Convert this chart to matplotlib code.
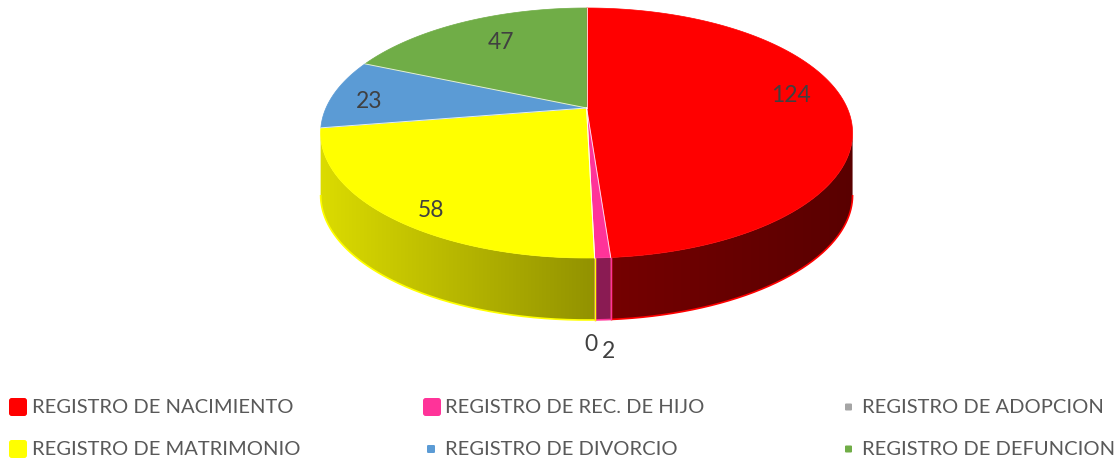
import numpy as np
import matplotlib
matplotlib.use("Agg")
import matplotlib.pyplot as plt
from matplotlib.patches import Polygon, FancyBboxPatch
from matplotlib.colors import to_rgb

# datos
categorias = ["REGISTRO DE NACIMIENTO", "REGISTRO DE REC. DE HIJO", "REGISTRO DE ADOPCION",
              "REGISTRO DE MATRIMONIO", "REGISTRO DE DIVORCIO", "REGISTRO DE DEFUNCION"]
valores = [124, 2, 0, 58, 23, 47]
colores = ["#FF0000", "#FF3399", "#A5A5A5", "#FFFF00", "#5B9BD5", "#70AD47"]

# geometria del pastel 3d (pixeles)
cx, cy = 586.6, 108.0
fx, fy = 260.6, 120.0
k = 0.2       # perspectiva
h = 62.0      # grosor
lab_r = [0.81, 1.0, 1.0, 0.89, 0.845, 0.72]
lab_dt = [5.7, 0, 0, 4.6, 3.6, -2.3]
fuera_dx = [0, 6, -4, 0, 0, 0]
fuera_dy = [0, 32, 25, 0, 0, 0]
# sombreado del costado: base - amp * posicion
lado_base = [0.47, 0.55, 0.56, 0.58, 0.56, 0.56]
lado_amp = [0.12, 0.1, 0.24, 0.28, 0.24, 0.24]

fuente = ['Liberation Sans Narrow', 'Lato', 'DejaVu Sans']


def proj(r, t, dz=0.0):
    t = np.radians(t)
    u = r * np.cos(t)
    v = r * np.sin(t)
    d = 1 + k * v
    return cx + fx * u / d, cy - fy * v / d + dz


fig = plt.figure(figsize=(11.17, 4.61), dpi=100)
ax = fig.add_axes([0, 0, 1, 1])

total = sum(valores)
inicio = []
fin = []
a = 90.0
for v in valores:
    inicio.append(a)
    a = a - 360.0 * v / total
    fin.append(a)

sil = np.degrees(np.arcsin(k))
lo, hi = -180 + sil, -sil

# costado con degradado
for i, v in enumerate(valores):
    if v == 0:
        continue
    a0 = max(fin[i], lo)
    a1 = min(inicio[i], hi)
    if a1 <= a0:
        continue
    ts = np.linspace(a0, a1, 200)
    bx, by = proj(1, ts)
    pts = list(zip(bx, by)) + list(zip(bx[::-1], by[::-1] + h))
    poly = Polygon(pts, closed=True, facecolor='none', edgecolor='none')
    ax.add_patch(poly)
    x0, x1 = bx.min() - 2, bx.max() + 2
    xs = np.linspace(x0, x1, 300)
    cs = np.clip((xs - cx) / 266.0, -1, 1)
    f = lado_base[i] - lado_amp[i] * cs
    grad = np.array(to_rgb(colores[i]))[None, None, :] * f[None, :, None]
    im = ax.imshow(np.clip(grad, 0, 1), extent=[x0, x1, by.max() + h + 2, by.min() - 2],
                   aspect='auto', interpolation='bilinear', zorder=1)
    im.set_clip_path(poly)
    ax.plot(bx, by + h, color=colores[i], lw=1.2, solid_capstyle='butt', zorder=2)
    for t in (a0, a1):
        if lo < t < hi:
            xe, ye = proj(1, t)
            ax.plot([xe, xe], [ye, ye + h], color=colores[i], lw=1.0, zorder=2)

# cara superior
for i, v in enumerate(valores):
    if v == 0:
        continue
    ts = np.linspace(inicio[i], fin[i], max(3, int(abs(inicio[i] - fin[i]) * 2)))
    px, py = proj(1, ts)
    pts = [(cx, cy)] + list(zip(px, py))
    ax.add_patch(Polygon(pts, closed=True, facecolor=colores[i], edgecolor=colores[i],
                         lw=0.5, zorder=3))
for t in inicio:
    xe, ye = proj(1, t)
    ax.plot([cx, xe], [cy, ye], color='white', lw=0.7, alpha=0.8, zorder=4)

# etiquetas
for i, v in enumerate(valores):
    m = (inicio[i] + fin[i]) / 2
    if abs(inicio[i] - fin[i]) > 10:
        xl, yl = proj(lab_r[i], m + lab_dt[i])
    else:
        xl, yl = proj(1, m, h)
        xl, yl = xl + fuera_dx[i], yl + fuera_dy[i]
    ax.text(xl, yl, str(v), ha='center', va='center', fontsize=16.5,
            color='#404040', family=fuente, zorder=5)

# leyenda
col_x = [9, 423, 846]
txt_x = [32, 445, 862]
fila_y = [407, 449]
tam = [18, 18, 7, 18, 8, 7]
for i, nombre in enumerate(categorias):
    fi, co = divmod(i, 3)
    s = tam[i]
    if s > 10:
        xm = col_x[co]
    else:
        xm = txt_x[co] - 10 - s
    ym = fila_y[fi]
    ax.add_patch(FancyBboxPatch((xm, ym - s / 2), s, s,
                                boxstyle="round,pad=0,rounding_size=%g" % (s * 0.15),
                                facecolor=colores[i], edgecolor='none'))
    ax.text(txt_x[co], ym, nombre, ha='left', va='center', fontsize=14.5,
            color='#595959', family=fuente)

ax.set_xlim(0, 1117)
ax.set_ylim(461, 0)
ax.axis('off')

fig.savefig("out.png", dpi=100)
